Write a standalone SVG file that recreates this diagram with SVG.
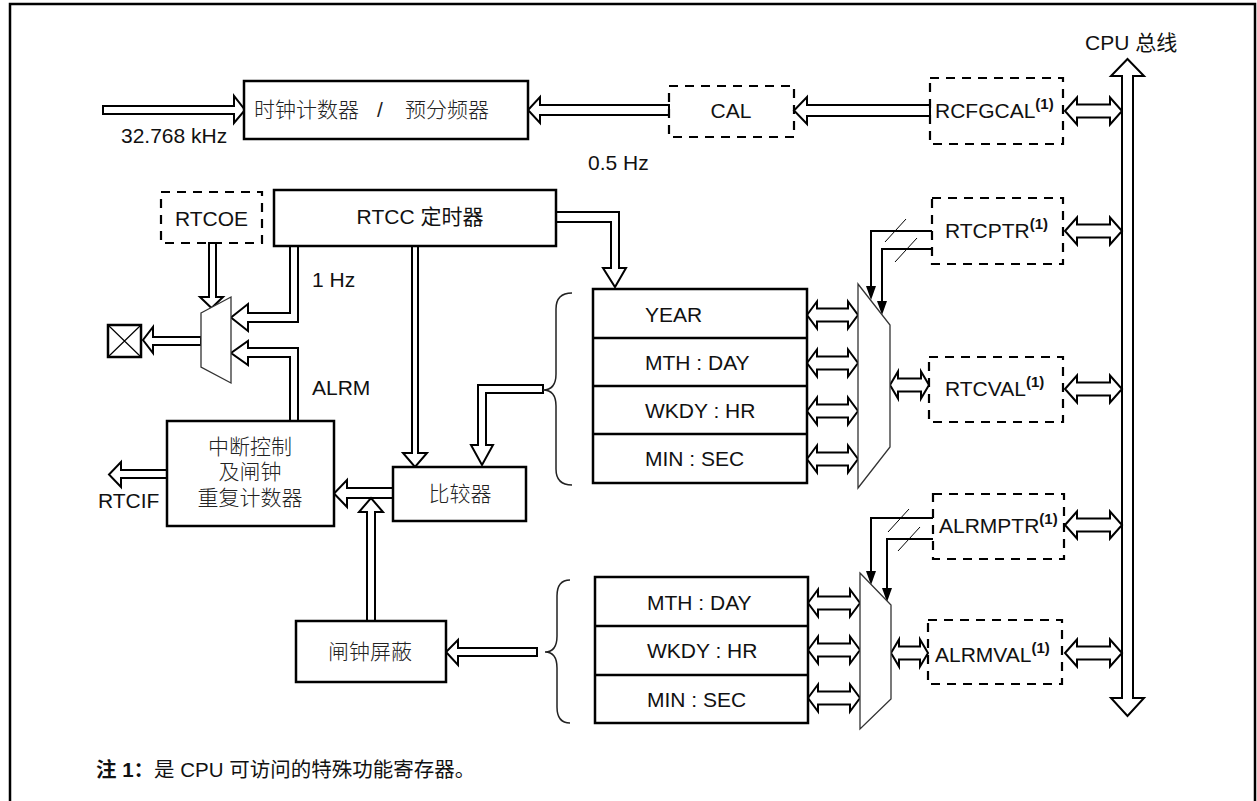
<svg xmlns="http://www.w3.org/2000/svg" width="1257" height="801" viewBox="0 0 1257 801">
<style>
.box{fill:#fff;stroke:#000;stroke-width:2.5}
.dbox{fill:none;stroke:#000;stroke-width:2.2;stroke-dasharray:9 7}
.arr{fill:#fff;stroke:#000;stroke-width:2;stroke-linejoin:miter}
.mux{fill:#fff;stroke:#333;stroke-width:1.3}
.br{fill:none;stroke:#222;stroke-width:1.5}
.ptr{fill:none;stroke:#000;stroke-width:2}
.hd{fill:#000;stroke:none}
.sl{stroke:#000;stroke-width:1}
.t{font-family:"Liberation Sans","Noto Sans CJK SC",Arial,sans-serif;font-size:21px;fill:#111}
.cj{font-weight:300;fill:#222}
.m{text-anchor:middle}
.sup{font-size:15px;font-weight:bold}
</style>
<rect width="1257" height="801" fill="#fff"/>
<path d="M10,805 V4 H1255 V805" fill="none" stroke="#000" stroke-width="2.5"/>

<g id="connectors">
  <polygon class="arr" points="103,106 234,106 234,96 245,110 234,123 234,114 103,114"/>
  <polygon class="arr" points="669,105 540,105 540,97 528,110 540,123 540,115 669,115"/>
  <polygon class="arr" points="930,105 807,105 807,97 794,110.5 807,124 807,116 930,116"/>
  <polygon class="arr" points="1065,111 1077,97.5 1077,104.5 1110,104.5 1110,97.5 1122,111 1110,124.5 1110,117.5 1077,117.5 1077,124.5"/>
  <polygon class="arr" points="1127.5,59 1144,76 1133,76 1133,698 1144,698 1127.5,716 1111,698 1122,698 1122,76 1111,76"/>
  <polygon class="arr" points="1065,231 1077,217.5 1077,224.5 1110,224.5 1110,217.5 1122,231 1110,244.5 1110,237.5 1077,237.5 1077,244.5"/>
  <polygon class="arr" points="1065,389 1077,375.5 1077,382.5 1110,382.5 1110,375.5 1122,389 1110,402.5 1110,395.5 1077,395.5 1077,402.5"/>
  <polygon class="arr" points="1065,525 1077,511.5 1077,518.5 1110,518.5 1110,511.5 1122,525 1110,538.5 1110,531.5 1077,531.5 1077,538.5"/>
  <polygon class="arr" points="1065,653 1077,639.5 1077,646.5 1110,646.5 1110,639.5 1122,653 1110,666.5 1110,659.5 1077,659.5 1077,666.5"/>
  <polygon class="arr" points="890,385 898,371.5 898,378.5 921,378.5 921,371.5 929,385 921,398.5 921,391.5 898,391.5 898,398.5"/>
  <polygon class="arr" points="891,653 899,639.5 899,646.5 920,646.5 920,639.5 928,653 920,666.5 920,659.5 899,659.5 899,666.5"/>
  <polygon class="arr" points="807,315 817,301.5 817,308.5 848,308.5 848,301.5 858,315 848,328.5 848,321.5 817,321.5 817,328.5"/>
  <polygon class="arr" points="807,363 817,349.5 817,356.5 848,356.5 848,349.5 858,363 848,376.5 848,369.5 817,369.5 817,376.5"/>
  <polygon class="arr" points="807,411 817,397.5 817,404.5 848,404.5 848,397.5 858,411 848,424.5 848,417.5 817,417.5 817,424.5"/>
  <polygon class="arr" points="807,459 817,445.5 817,452.5 848,452.5 848,445.5 858,459 848,472.5 848,465.5 817,465.5 817,472.5"/>
  <polygon class="arr" points="808,603 818,589.5 818,596.5 850,596.5 850,589.5 860,603 850,616.5 850,609.5 818,609.5 818,616.5"/>
  <polygon class="arr" points="808,650 818,636.5 818,643.5 850,643.5 850,636.5 860,650 850,663.5 850,656.5 818,656.5 818,663.5"/>
  <polygon class="arr" points="808,698 818,684.5 818,691.5 850,691.5 850,684.5 860,698 850,711.5 850,704.5 818,704.5 818,711.5"/>
  <path class="ptr" d="M932,231 H871 V287 M932,249 H882 V302"/>
  <polygon class="hd" points="866,286 876,286 871,300"/>
  <polygon class="hd" points="877,301 887,301 882,315"/>
  <line class="sl" x1="885" y1="242" x2="906" y2="219"/>
  <line class="sl" x1="895" y1="262" x2="917" y2="238"/>
  <path class="ptr" d="M933,518 H871 V572 M933,539 H887 V589"/>
  <polygon class="hd" points="866,571 876,571 871,585"/>
  <polygon class="hd" points="882,588 892,588 887,602"/>
  <line class="sl" x1="888" y1="532" x2="909" y2="509"/>
  <line class="sl" x1="898" y1="551" x2="920" y2="527"/>
  <polygon class="arr" points="556,212 619,212 619,268 626,268 615,287 603,268 611,268 611,222 556,222"/>
  <polygon class="arr" points="412,246 412,453 403,453 415,467 427,453 418,453 418,246"/>
  <polygon class="arr" points="543,385 478,385 478,445 471,445 482,465 493,445 486,445 486,393 543,393"/>
  <polygon class="arr" points="393,488 347,488 347,480 334,493.5 347,507 347,498 393,498"/>
  <polygon class="arr" points="367,621 367,512 359,512 371,498 383,512 375,512 375,621"/>
  <polygon class="arr" points="537,648 458,648 458,640 446,652 458,665 458,656 537,656"/>
  <polygon class="arr" points="167,470 121,470 121,462 109,474.5 121,487 121,478 167,478"/>
  <polygon class="arr" points="209,243 209,297 200,297 211.5,308 223,297 216,297 216,243"/>
  <polygon class="arr" points="290,246 290,313 248,313 248,304 231,317.5 248,331 248,322 298,322 298,246"/>
  <polygon class="arr" points="290,421 290,357 248,357 248,365 231,353 248,341 248,348 298,348 298,421"/>
  <polygon class="arr" points="201,337 153,337 153,327 143,340 153,353 153,345 201,345"/>
  <path class="br" d="M572,293 Q556,293 556,309 V374 Q556,390 543,390 Q556,390 556,406 V469 Q556,485 572,485"/>
  <path class="br" d="M570,580 Q557,580 557,596 V636 Q557,652 545,652 Q557,652 557,668 V707 Q557,723 570,723"/>
</g>

<g id="clock-counter">
  <rect class="box" x="244" y="81" width="284" height="58"/>
  <text class="t cj" y="117"><tspan x="254">时钟计数器</tspan><tspan x="377">/</tspan><tspan x="405">预分频器</tspan></text>
</g>
<g id="cal">
  <rect class="dbox" x="669" y="86" width="125" height="51"/>
  <text class="t m" x="731" y="118">CAL</text>
</g>
<g id="rcfgcal">
  <rect class="dbox" x="930" y="78" width="133" height="66"/>
  <text class="t" x="935" y="118">RCFGCAL<tspan class="sup" dy="-9">(1)</tspan></text>
</g>
<g id="bus-label"><text class="t" x="1085" y="50">CPU 总线</text></g>
<g id="freq-labels">
  <text class="t" x="121" y="143">32.768 kHz</text>
  <text class="t" x="588" y="170">0.5 Hz</text>
  <text class="t" x="312" y="287">1 Hz</text>
  <text class="t" x="312" y="395">ALRM</text>
  <text class="t" x="98" y="508">RTCIF</text>
</g>
<g id="rtcoe">
  <rect class="dbox" x="161" y="192" width="101" height="51"/>
  <text class="t m" x="211.5" y="226">RTCOE</text>
</g>
<g id="rtcc-timer">
  <rect class="box" x="274" y="190" width="282" height="56"/>
  <text class="t m" x="420" y="224">RTCC 定时器</text>
</g>
<g id="out-mux">
  <polygon class="mux" points="201,313 231,297 231,383 201,367"/>
</g>
<g id="out-pin">
  <rect x="108" y="325" width="33" height="32" fill="#fff" stroke="#000" stroke-width="2.5"/>
  <path d="M108,325 L141,357 M141,325 L108,357" stroke="#000" stroke-width="1.2"/>
</g>
<g id="interrupt">
  <rect class="box" x="167" y="421" width="167" height="105"/>
  <text class="t m cj" x="250" y="454">中断控制</text>
  <text class="t m cj" x="250" y="479">及闸钟</text>
  <text class="t m cj" x="250" y="505">重复计数器</text>
</g>
<g id="comparator">
  <rect class="box" x="393" y="467" width="133" height="54"/>
  <text class="t m cj" x="460" y="501">比较器</text>
</g>
<g id="alarm-mask">
  <rect class="box" x="296" y="621" width="150" height="61"/>
  <text class="t m cj" x="370" y="659">闸钟屏蔽</text>
</g>
<g id="rtc-registers">
  <rect class="box" x="593" y="289" width="214" height="194"/>
  <path d="M593,338 H807 M593,386 H807 M593,434 H807" stroke="#000" stroke-width="2.5"/>
  <text class="t" x="645" y="322">YEAR</text>
  <text class="t" x="645" y="370">MTH : DAY</text>
  <text class="t" x="645" y="418">WKDY : HR</text>
  <text class="t" x="645" y="466">MIN : SEC</text>
</g>
<g id="alarm-registers">
  <rect class="box" x="595" y="577" width="213" height="146"/>
  <path d="M595,626 H808 M595,675 H808" stroke="#000" stroke-width="2.5"/>
  <text class="t" x="647" y="610">MTH : DAY</text>
  <text class="t" x="647" y="658">WKDY : HR</text>
  <text class="t" x="647" y="707">MIN : SEC</text>
</g>
<g id="rtc-mux">
  <polygon class="mux" points="858,284 890,325 890,447 858,488"/>
</g>
<g id="alarm-mux">
  <polygon class="mux" points="860,573 891,605 891,699 860,729"/>
</g>
<g id="rtcptr">
  <rect class="dbox" x="932" y="198" width="131" height="66"/>
  <text class="t" x="945" y="238">RTCPTR<tspan class="sup" dy="-9">(1)</tspan></text>
</g>
<g id="rtcval">
  <rect class="dbox" x="929" y="357" width="134" height="65"/>
  <text class="t" x="945" y="396">RTCVAL<tspan class="sup" dy="-9">(1)</tspan></text>
</g>
<g id="alrmptr">
  <rect class="dbox" x="933" y="494" width="131" height="65"/>
  <text class="t" x="939" y="533">ALRMPTR<tspan class="sup" dy="-9">(1)</tspan></text>
</g>
<g id="alrmval">
  <rect class="dbox" x="928" y="620" width="134" height="64"/>
  <text class="t" x="935" y="662">ALRMVAL<tspan class="sup" dy="-9">(1)</tspan></text>
</g>
<g id="note">
  <text class="t" x="96" y="777" style="font-size:20.5px"><tspan font-weight="bold">注 1：</tspan>是 CPU 可访问的特殊功能寄存器。</text>
</g>
</svg>
